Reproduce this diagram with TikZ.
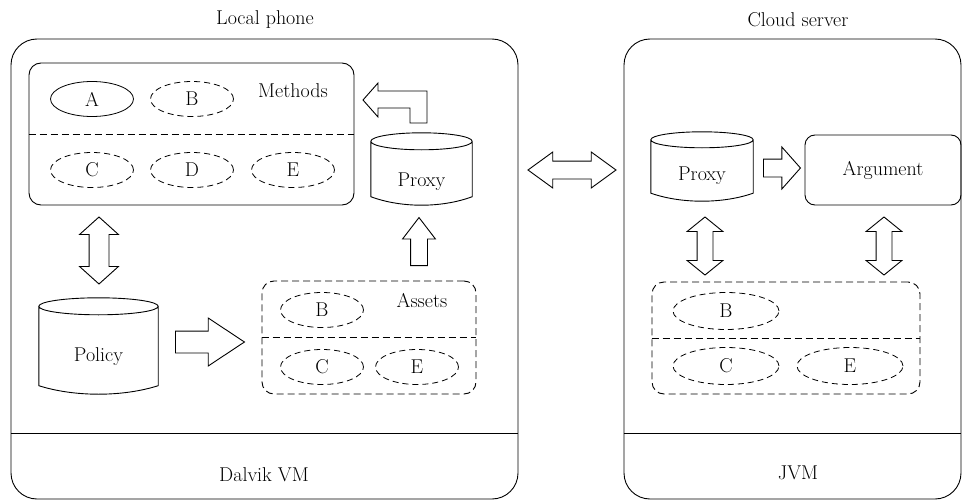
\documentclass[tikz,border=0pt]{standalone}
\usetikzlibrary{arrows.meta,positioning,calc,shapes.geometric,shapes.arrows}
\tikzset{
	machine/.style={draw, rounded corners=26pt, line width=0.9pt},
	group/.style={draw, rounded corners=12pt, line width=0.9pt},
	dgroup/.style={group, dash pattern=on 7pt off 4pt},
	item/.style={draw, ellipse, minimum width=83pt, minimum height=35pt, inner sep=0pt, line width=0.8pt},
	ditem/.style={item, dash pattern=on 6pt off 4pt},
	store/.style={inner sep=0pt},
	argbox/.style={draw, rounded corners=10pt, line width=0.9pt},
	sep/.style={line width=0.9pt},
	dsep/.style={line width=0.9pt, dash pattern=on 7pt off 4pt},
	flow/.style={draw, single arrow, anchor=tail, inner xsep=0pt, line width=0.9pt},
	dflow/.style={draw, double arrow, inner xsep=0pt, line width=0.9pt},
	every node/.append style={font=\fontsize{20}{24}\selectfont}
}
\newcommand\storedrum[2]{%
	\draw[sep] let \p1=(#1.north west), \p2=(#1.south east), \n1={(\x2-\x1)/2} in
		(\x1+\n1,\y1-#2) ellipse [x radius=\n1, y radius=#2]
		(\x1,\y1-#2) -- (\x1,\y2+#2) .. controls (\x1+0.6*\n1,\y2-#2/3) and (\x2-0.6*\n1,\y2-#2/3) .. (\x2,\y2+#2) -- (\x2,\y1-#2);
}

\begin{document}
\begin{tikzpicture}[x=1pt, y=-1pt]
	\useasboundingbox (0,0) rectangle (962,503);
	\coordinate (vmline) at (0,433);

	\node[machine, minimum width=507pt, minimum height=460pt] (phone) at (264.5,269) {};
	\node[machine, minimum width=337pt, minimum height=460pt] (server) at (792.5,269) {};
	\node (phonetitle) at (265,20) {Local phone};
	\node (servertitle) at (798,20) {Cloud server};
	\draw[sep] (phone.west |- vmline) -- (phone.east |- vmline);
	\draw[sep] (server.west |- vmline) -- (server.east |- vmline);
	\node (dalvik) at (264,475) {Dalvik VM};
	\node (jvm) at (798,473) {JVM};

	\node[group, minimum width=325pt, minimum height=142pt] (methods) at (191.5,134) {};
	\draw[dsep] (methods.west) -- (methods.east);
	\node[item] (ma) at (92,99) {A};
	\node[ditem] (mb) at (192,99) {B};
	\node (methodslabel) at (293,91) {Methods};
	\node[ditem] (mc) at (92,170) {C};
	\node[ditem] (md) at (192,170) {D};
	\node[ditem] (me) at (293,170) {E};

	\node[store, minimum width=101pt, minimum height=72pt, label={[yshift=-13pt]center:Proxy}] (lproxy) at (421.5,169) {};
	\storedrum{lproxy}{8.5pt}
	\node[store, minimum width=119pt, minimum height=96pt, label={[yshift=-11pt]center:Policy}] (policy) at (98.5,346) {};
	\storedrum{policy}{8.5pt}

	\node[dgroup, minimum width=214pt, minimum height=113pt] (assets) at (369,337.5) {};
	\draw[dsep] (assets.west) -- (assets.east);
	\node[ditem] (ab) at (322,310) {B};
	\node (assetslabel) at (422,301) {Assets};
	\node[ditem] (ac) at (322,367) {C};
	\node[ditem] (ae) at (417,367) {E};

	\node[flow, rotate=90, minimum height=48pt, minimum width=32pt, inner ysep=8pt, single arrow head extend=8pt, single arrow tip angle=75] (toproxy) at (419,266) {};
	\node[dflow, rotate=90, minimum height=67pt, minimum width=38pt, inner ysep=9.5pt, double arrow head extend=9.5pt, double arrow tip angle=96] (methpol) at (99,250.5) {};
	\node[flow, minimum height=69pt, minimum width=46pt, inner ysep=10.5pt, single arrow head extend=13pt, single arrow tip angle=67] (polassets) at (175,342) {};
	\coordinate (bentfoot) at (418.5,123);
	\draw[sep] (bentfoot) ++(8.5,0) -- ++(0,-32) -- ++(-49,0) -- ++(0,-8) -- ++(-15,17) -- ++(15,17) -- ++(0,-9) -- ++(32,0) -- ++(0,15) -- cycle;

	\node[dflow, minimum height=88pt, minimum width=35pt, inner ysep=8.5pt, double arrow head extend=9pt, double arrow tip angle=72] (link) at (572,170) {};

	\node[store, minimum width=102pt, minimum height=69pt, label={[yshift=-9pt]center:Proxy}] (sproxy) at (702,166.5) {};
	\storedrum{sproxy}{8pt}
	\node[argbox, minimum width=156pt, minimum height=70pt] (argument) at (883,170) {Argument};
	\node[flow, minimum height=37pt, minimum width=41pt, inner ysep=8.5pt, single arrow head extend=12pt, single arrow tip angle=97] (toarg) at (763,168) {};

	\node[dgroup, minimum width=268pt, minimum height=112pt] (cache) at (786,338) {};
	\draw[dsep] (cache.west) -- (cache.east);
	\node[ditem, minimum width=106pt, minimum height=37pt] (sb) at (726,311) {B};
	\node[ditem, minimum width=106pt, minimum height=37pt] (sc) at (726,366) {C};
	\node[ditem, minimum width=106pt, minimum height=37pt] (se) at (850,366) {E};
	\node[dflow, rotate=90, minimum height=58pt, minimum width=35pt, inner ysep=7.5pt, double arrow head extend=10pt, double arrow tip angle=102] (proxycache) at (705,246) {};
	\node[dflow, rotate=90, minimum height=58pt, minimum width=35pt, inner ysep=7.5pt, double arrow head extend=10pt, double arrow tip angle=102] (argcache) at (884,246) {};
\end{tikzpicture}
\end{document}
